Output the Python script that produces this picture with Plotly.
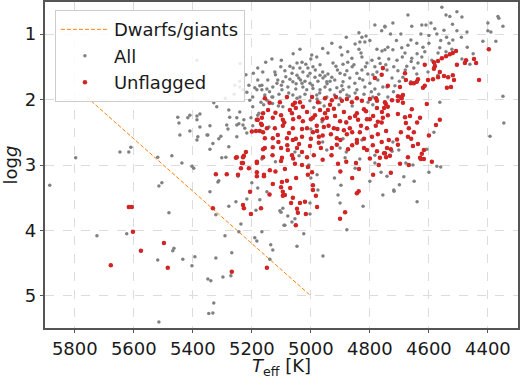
import plotly.graph_objects as go

# Dwarf/giant dividing line
line_teff = [5760, 5000]
line_logg = [1.96, 5.0]

# Unflagged stars (red)
red_teff = [
    5156, 5105, 5081, 5061, 5054, 5037, 5027, 4996, 4976, 4952, 4935, 4929, 4915, 4895, 4878, 4861, 4844, 4827, 4800, 4779, 4776, 4749, 4752,
    5162, 5145, 5129, 5101, 5095, 5071, 5064, 5051, 5040, 5027, 5013, 4993, 4986, 4969, 4952, 4942, 4946, 4922, 4918, 4901, 4888, 4868, 4844, 4840, 4813, 4810, 4789, 4776, 4759, 4756, 4773,
    5166, 5149, 5122, 5112, 5095, 5074, 5061, 5051, 5030, 5013, 4993, 4979, 4973, 4956, 4932, 4922, 4912, 4888, 4878, 4868, 4844, 4834, 4810, 4793, 4773, 4745, 5156, 5129, 5081, 5061,
    5156, 5129, 5101, 5078, 5047, 5030, 5003, 4973, 4966, 4929, 4912, 4874, 4844, 4820, 4810, 4776, 4752, 4742, 5098, 5064, 5013, 4990, 4745, 4766, 5162,
    5101, 5088, 5139, 5054, 5010, 4996, 5010, 4908, 4847, 4837, 4789, 5159, 5098, 5081, 5129, 4993,
    5101, 5095, 5088, 5061, 4844, 4838, 4993,
    5095, 5067, 5037, 5020, 4983, 4979, 5047, 5044, 5017, 5051, 4901, 4884, 5149,
    5332, 5230, 5227, 5203, 5169, 5268,
    5183, 5169, 5166, 5173, 5162, 5254, 5220, 5227, 5230, 5237, 5210, 5183, 5162, 5322, 5285, 5183, 5159, 5206,
    4607, 4563, 4576, 4746, 4739, 4725, 4705, 4692, 4688, 4658, 4705, 4739, 4681, 4664, 4630, 4678, 4668, 4695, 4651, 4671, 4708, 4736, 4705, 4654, 4637, 4729, 4732, 4749, 4617, 4624, 4630, 4627, 4617, 4671, 4698, 4668, 4729,
    4397, 4508, 4519, 4529, 4542, 4556, 4569, 4583, 4474, 4478, 4447, 4440, 4505, 4614, 4580, 4583, 4563, 4549, 4535, 4519, 4515, 4430, 4569, 4586, 4603, 4637, 4641, 4661, 4651, 4620, 4614, 4539, 4525, 4739, 4698, 4688, 4705, 4695, 4678, 4681,
    4756, 4760, 4783,
    5617, 5607, 5603, 5498, 5576, 5678, 5485,
    5251, 5230, 5234, 5183, 5183, 5186, 5180, 5200, 5247,
    5140, 5120, 5090, 5060, 5030, 5000, 4980, 4960, 4940, 4910, 4880, 4860, 4830, 4800, 4780, 4760,
    5110, 5080, 5040, 5000, 4960, 4900, 4860, 4820, 4790, 4760,
    5130, 5060, 5030, 4960, 4930, 4880, 4800, 4770, 5120, 5050, 4900, 4860, 5140, 5070,
    4850, 4820, 4640, 4600, 4590, 4660,
]
red_logg = [
    1.98, 2.04, 1.96, 2.08, 2.05, 2.04, 2.11, 1.96, 2.04, 1.98, 2.08, 2.01, 1.96, 2.02, 1.99, 2.04, 1.98, 2.02, 1.99, 1.98, 2.02, 2.04, 2.13,
    2.21, 2.16, 2.28, 2.24, 2.31, 2.16, 2.21, 2.13, 2.27, 2.33, 2.19, 2.28, 2.24, 2.16, 2.21, 2.16, 2.28, 2.14, 2.25, 2.33, 2.19, 2.28, 2.21, 2.31, 2.18, 2.30, 2.25, 2.13, 2.19, 2.28, 2.34,
    2.39, 2.44, 2.44, 2.54, 2.40, 2.51, 2.44, 2.60, 2.57, 2.44, 2.50, 2.48, 2.57, 2.42, 2.53, 2.44, 2.59, 2.47, 2.53, 2.44, 2.62, 2.50, 2.44, 2.57, 2.53, 2.48, 2.59, 2.59, 2.59, 2.62,
    2.74, 2.73, 2.74, 2.77, 2.74, 2.80, 2.71, 2.66, 2.74, 2.74, 2.69, 2.76, 2.66, 2.74, 2.77, 2.79, 2.82, 2.74, 2.89, 2.85, 2.88, 2.85, 2.88, 2.89, 2.88,
    2.94, 3.06, 3.08, 2.98, 3.03, 3.11, 3.15, 2.98, 2.97, 3.06, 3.15, 3.15, 3.26, 3.24, 3.29, 3.31,
    3.34, 3.41, 3.46, 3.50, 3.43, 3.40, 3.38,
    3.47, 3.58, 3.58, 3.56, 3.47, 3.64, 3.67, 3.73, 3.75, 3.92, 3.82, 3.72, 4.57,
    3.66, 3.61, 3.66, 3.75, 3.66, 4.63,
    2.31, 2.37, 2.28, 2.48, 2.50, 2.89, 2.80, 2.86, 2.97, 3.05, 3.05, 2.95, 2.76, 3.14, 3.14, 3.17, 3.17, 3.41,
    2.07, 2.31, 2.39, 2.07, 2.11, 2.01, 2.02, 1.98, 2.05, 2.15, 2.22, 2.24, 2.27, 2.25, 2.28, 2.36, 2.44, 2.50, 2.50, 2.57, 2.61, 2.62, 2.69, 2.71, 2.68, 2.76, 2.86, 2.82, 2.77, 2.83, 2.89, 2.91, 2.91, 2.88, 2.98, 3.00, 3.12,
    1.23, 1.26, 1.29, 1.31, 1.34, 1.37, 1.41, 1.43, 1.40, 1.44, 1.38, 1.44, 1.47, 1.47, 1.49, 1.53, 1.58, 1.64, 1.66, 1.63, 1.70, 1.70, 1.66, 1.69, 1.70, 1.69, 1.73, 1.75, 1.75, 1.82, 1.79, 1.82, 1.81, 1.79, 1.81, 1.93, 1.95, 1.96, 1.70, 1.60,
    1.52, 1.62, 1.67,
    3.64, 3.64, 4.02, 4.19, 4.31, 4.53, 4.57,
    2.88, 2.88, 2.97, 3.11, 2.97, 2.48, 2.31, 2.49, 3.15,
    2.05, 2.20, 2.35, 2.30, 2.45, 2.30, 2.40, 2.30, 2.40, 2.45, 2.35, 2.50, 2.40, 2.30, 2.40, 2.35,
    2.65, 2.70, 2.68, 2.60, 2.55, 2.62, 2.70, 2.60, 2.70, 2.65,
    2.85, 2.90, 3.00, 2.92, 2.85, 2.95, 2.90, 3.00, 3.10, 3.20, 3.10, 3.20, 3.45, 3.35,
    2.25, 2.15, 2.35, 2.55, 2.95, 2.60,
]

# Flagged stars (only visible in grey, part of "All")
grey_teff = [
    5451, 5447, 5444, 5610, 5647, 5617, 5797, 5519, 5471, 5437, 5885, 5505, 5515, 5481, 5624, 5725, 5464, 5468, 5519, 5434, 5515, 5403, 5397, 5315,
    5410, 5417, 5376, 5349, 5383, 5305, 5332, 5278, 5386, 5376, 5386, 5410, 5386, 5342, 5302, 5288, 5247, 5312, 5342, 5200, 5217, 5176, 5342, 5352,
    5312, 5251, 5217, 5197, 5203, 5227, 5224, 5230, 5244, 5251, 5281, 5285, 5329, 5319, 5278, 5275, 5241, 5251, 5217, 5207, 5197, 5183, 5180, 5241,
    5197, 5386, 5258, 5241, 5190, 5173, 5166,
    5322, 5278, 5254, 5186, 5173, 5237, 5291, 5244, 5190, 5183, 5393, 5403, 5322, 5268, 5136, 5129, 5139, 5271, 5298, 5349, 5339, 5329, 5346, 5332,
    4959, 5088, 5047, 5024, 5105, 5095, 5078, 5064, 5054, 5003,
    4901, 4823, 4640, 4878, 5101, 5091, 5003, 5166, 4718,
    4563, 4583, 4349, 4346, 4393, 4573, 4560, 4600, 4719, 4685, 4742, 4607, 4678, 4654, 4702, 4725, 4722,
    4556, 4542, 4529, 4505, 4488, 4671, 4722, 4624, 4610, 4658, 4593, 4549, 4505, 4573, 4627, 4471, 4400, 4366, 4363, 4349, 4400, 4390, 4417, 4373,
    4695, 4749, 4519, 4532, 4600, 4641, 4671, 4661, 4692, 4722, 4739, 4681, 4614, 4563, 4569, 4542, 4522, 4736, 4708, 4658, 4624, 4590, 4637, 4675,
    4719, 4742, 4705, 4651, 4580, 4488, 4461, 4603, 4641, 4688, 4725, 4569, 4661, 4715, 4742, 4739,
    4783, 4749, 4837, 4827, 4813, 4834, 4817, 4929, 4837, 4830, 4776, 4759, 4749, 5037, 4875, 4997, 4980, 4942, 4895, 4861, 4827, 4793, 4769,
    5153, 5132, 5102, 5071, 5047, 5030, 5017, 5037, 5010, 4993, 4969, 4925, 4915, 4891, 4875, 4854, 4810, 4783, 4746,
    5163, 5122, 5088, 5064, 5047, 5027, 5003, 4986, 4969, 4952, 4942, 4901, 4878, 4844, 4827, 4807, 4776, 4756,
    5146, 5112, 5115, 5095, 5071, 5061, 5041, 5030, 5020, 5003, 4976, 4959, 4946, 4929, 4919, 4891, 4868, 4851, 4824, 4800, 4773,
    5166, 5149, 5129, 5098, 5078, 5051, 5027, 5014, 4993, 4969, 4952, 4935, 4912, 4891, 4895, 4871, 4844, 4817, 4783, 4756,
    5156, 5132, 5108, 5081, 5061, 5037, 4980, 4946, 4878, 4790,
    5149, 5129, 5047, 5003, 4979, 4969, 4901, 4806, 5169, 5095, 4962, 4881, 5142, 4891, 4827, 5054, 4946, 4901, 5040, 4884, 4834, 4783, 5166,
    5007, 5000, 4979, 4898, 4783, 4762, 5149, 4976, 4908, 4756,
    5120, 5085, 5060, 5035, 5010, 4985, 4960, 4935, 4910, 4885, 4860, 4835, 4815, 4790, 4765,
    5140, 5100, 5075, 5050, 5020, 4995, 4970, 4945, 4920, 4900, 4870, 4850, 4820, 4795, 4770,
    5180, 5195, 5210, 5230, 5260, 5290, 5160, 5130, 5110, 4990, 4955, 4905, 4860, 4790,
    4720, 4700, 4680, 4660, 4640, 4620, 4600, 4580, 4560, 4540, 4520, 4490, 4470, 4450,
    4690, 4710, 4730, 4760, 4800, 4850, 4880, 4900, 4960, 5000, 5060, 5100, 5180, 5220, 5240,
    5000, 4960, 4880, 4850, 4800, 4920, 5120, 5180, 4700, 4650,
]
grey_logg = [
    2.27, 2.36, 2.54, 2.73, 2.80, 2.80, 2.89, 2.88, 2.86, 2.97, 3.31, 3.27, 3.32, 3.73, 4.05, 4.08, 4.27, 4.31, 4.45, 4.44, 5.40, 3.02, 3.05, 3.26,
    2.24, 2.28, 2.42, 2.54, 2.57, 2.56, 2.67, 2.72, 2.25, 2.22, 2.31, 2.48, 2.62, 2.76, 2.89, 2.88, 3.17, 3.24, 3.41, 3.27, 3.52, 2.21, 2.40, 2.54,
    2.60, 2.57, 2.51, 2.40, 2.28, 2.31, 2.44, 2.39, 2.37, 2.28, 2.45, 2.39, 2.05, 2.11, 2.16, 2.27, 2.19, 2.39, 1.89, 2.01, 2.11, 1.85, 2.24, 1.72,
    1.96, 1.40, 1.78, 1.81, 1.82, 1.79, 1.85,
    3.76, 3.63, 3.56, 3.69, 3.53, 3.90, 4.08, 4.02, 4.11, 4.16, 4.40, 4.54, 4.42, 4.34, 4.22, 4.30, 4.44, 4.69, 4.71, 4.74, 4.77, 5.11, 5.27, 5.26,
    4.39, 3.92, 4.24, 4.05, 3.70, 3.66, 3.78, 3.87, 3.82, 3.75,
    3.58, 3.63, 3.56, 3.99, 3.72, 3.92, 3.58, 4.02, 3.40,
    2.04, 2.50, 1.95, 2.36, 2.56, 3.02, 3.03, 3.11, 3.38, 3.18, 3.17, 2.76, 2.97, 3.00, 2.77, 2.79, 2.65,
    0.59, 0.71, 0.73, 0.66, 0.74, 0.71, 0.83, 0.86, 0.86, 0.88, 0.83, 0.94, 0.95, 1.00, 1.00, 0.97, 0.83, 0.73, 0.76, 0.88, 0.95, 0.97, 1.11, 1.11,
    1.00, 0.89, 1.09, 1.14, 1.14, 1.14, 1.17, 1.09, 1.21, 1.24, 1.20, 1.29, 1.27, 1.21, 1.29, 1.27, 1.23, 1.38, 1.40, 1.37, 1.35, 1.40, 1.44, 1.49,
    1.50, 1.55, 1.56, 1.52, 1.46, 1.38, 1.46, 1.58, 1.61, 1.66, 1.67, 1.63, 1.73, 1.79, 1.81, 1.96,
    0.86, 0.88, 0.98, 1.05, 1.03, 1.12, 1.12, 1.14, 1.23, 1.29, 1.23, 1.26, 1.24, 1.23, 1.27, 1.32, 1.35, 1.29, 1.32, 1.37, 1.35, 1.40, 1.37,
    1.43, 1.38, 1.50, 1.49, 1.44, 1.43, 1.46, 1.52, 1.52, 1.50, 1.47, 1.44, 1.49, 1.46, 1.43, 1.47, 1.44, 1.50, 1.47,
    1.58, 1.58, 1.56, 1.60, 1.63, 1.58, 1.60, 1.66, 1.63, 1.64, 1.61, 1.60, 1.56, 1.60, 1.55, 1.61, 1.58, 1.53,
    1.70, 1.70, 1.75, 1.73, 1.69, 1.73, 1.67, 1.75, 1.72, 1.75, 1.72, 1.67, 1.73, 1.66, 1.70, 1.73, 1.67, 1.75, 1.70, 1.75, 1.70,
    1.78, 1.84, 1.81, 1.85, 1.81, 1.84, 1.81, 1.85, 1.83, 1.85, 1.81, 1.85, 1.82, 1.85, 1.79, 1.81, 1.85, 1.81, 1.84, 1.81,
    1.93, 1.96, 1.92, 1.96, 1.93, 1.96, 1.93, 1.96, 1.93, 1.96,
    2.01, 1.96, 1.98, 2.02, 1.99, 2.05, 1.98, 2.04, 2.04, 2.11, 2.34, 2.34, 2.42, 2.60, 2.62, 2.80, 2.77, 2.74, 2.86, 2.89, 2.91, 2.85, 2.91,
    3.00, 3.20, 3.15, 3.31, 2.97, 3.11, 3.41, 3.38, 3.46, 3.46,
    1.62, 1.65, 1.52, 1.70, 1.64, 1.55, 1.58, 1.72, 1.55, 1.62, 1.50, 1.68, 1.50, 1.62, 1.45,
    1.88, 1.78, 1.90, 1.76, 1.92, 1.78, 1.90, 1.76, 1.93, 1.88, 1.95, 1.90, 1.92, 1.88, 1.92,
    1.70, 1.60, 1.78, 1.85, 1.92, 1.98, 2.08, 2.06, 2.10, 2.12, 2.10, 2.08, 2.10, 2.08,
    1.88, 1.72, 1.55, 1.42, 1.30, 1.20, 1.02, 0.92, 1.10, 1.05, 0.85, 1.05, 1.20, 1.30,
    1.35, 1.10, 1.00, 0.95, 1.10, 1.15, 1.05, 1.20, 1.22, 1.38, 1.30, 1.40, 1.52, 1.62, 1.45,
    2.45, 2.65, 2.80, 3.05, 3.25, 3.20, 2.95, 3.35, 3.30, 3.25,
]

all_teff = grey_teff + red_teff
all_logg = grey_logg + red_logg

FONT = "DejaVu Sans"
TXT = "#1a1a1a"

fig = go.Figure()
fig.add_trace(go.Scatter(
    x=line_teff, y=line_logg, mode="lines", name="Dwarfs/giants", legendgroup="a",
    line=dict(color="#ff7f0e", width=1, dash="4px,2px"),
))
fig.add_trace(go.Scatter(
    x=all_teff, y=all_logg, mode="markers", name="All", legendgroup="b",
    marker=dict(color="#808080", size=3.5, line=dict(width=0)),
))
fig.add_trace(go.Scatter(
    x=red_teff, y=red_logg, mode="markers", name="Unflagged", legendgroup="c",
    marker=dict(color="#d22424", size=4.5, line=dict(width=0)),
))

axis_common = dict(
    showgrid=True, gridcolor="#dcdcdc", griddash="dash", gridwidth=1,
    zeroline=False, showline=True, linecolor="#555555", linewidth=1.5, mirror=True,
    ticks="outside", ticklen=3.5, tickcolor="#555555", automargin=False,
    tickfont=dict(family=FONT, size=18, color=TXT),
)

fig.update_layout(
    width=520, height=379,
    margin=dict(l=45, r=2, t=2, b=51),
    paper_bgcolor="white", plot_bgcolor="white",
    font=dict(family=FONT, color=TXT),
    showlegend=True,
    legend=dict(
        x=0.021, y=0.975, xanchor="left", yanchor="top",
        bgcolor="rgba(255,255,255,0.85)", bordercolor="#cccccc", borderwidth=1,
        font=dict(family=FONT, size=18, color=TXT),
        itemsizing="trace", itemwidth=48, tracegroupgap=0,
    ),
    xaxis=dict(
        range=[5901, 4298], tickvals=[5800, 5600, 5400, 5200, 5000, 4800, 4600, 4400],
        title=dict(text="<i>T</i><sub>eff</sub> [K]", font=dict(family=FONT, size=18, color=TXT), standoff=2),
        **axis_common,
    ),
    yaxis=dict(
        range=[5.49, 0.51], tickvals=[1, 2, 3, 4, 5],
        title=dict(text="log<i>g</i>", font=dict(family=FONT, size=18, color=TXT), standoff=4),
        **axis_common,
    ),
)

fig.write_html(
    "out.html",
    config={"displayModeBar": False},
    post_script="document.body.style.margin='0';document.body.style.overflow='hidden';",
)
